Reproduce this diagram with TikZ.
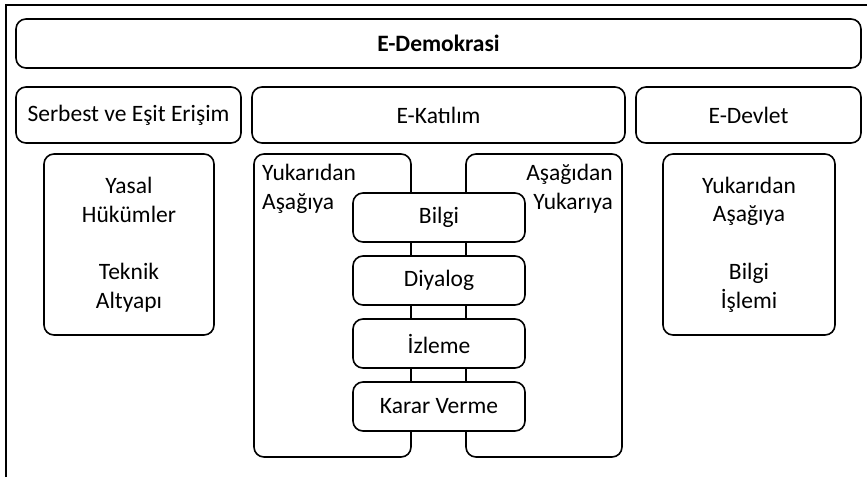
\documentclass[tikz,border=0pt]{standalone}
\usepackage{fontspec}
\setmainfont{Carlito}
\usepackage{tikz}
\usetikzlibrary{positioning}

\begin{document}
\begin{tikzpicture}[
x=1pt, y=-1pt,
font=\fontsize{23.5}{28.7}\selectfont,
roundbox/.style={rectangle, rounded corners=10pt, draw=black, line width=1.6pt, inner sep=0pt},
headbox/.style={roundbox, minimum width=225pt, minimum height=56pt},
textbox/.style={roundbox, minimum height=181pt, align=center},
sidebox/.style={roundbox, minimum width=157pt, minimum height=303pt},
stagebox/.style={roundbox, fill=white, minimum width=172pt, minimum height=49pt},
]
\useasboundingbox (0,0) rectangle (867,477);
%Frame
\draw[line width=1.6pt] (6,477) -- (6,5) -- (867,5);

%Nodes
\node[roundbox, minimum width=845pt, minimum height=49pt](edemokrasi) at (438.5,43.5){\textbf{E-Demokrasi}};
\node[headbox](erisim) at (128.5,115){Serbest ve Eşit Erişim};
\node[headbox, minimum width=373pt](ekatilim) at (438.5,115){E-Katılım};
\node[headbox](edevlet) at (748.5,115){E-Devlet};

\node[textbox, minimum width=170pt](yasal) at (129,244.5){Yasal\\Hükümler\\[28.7pt]Teknik\\Altyapı};
\node[textbox, minimum width=172pt](islem) at (749,244.5){Yukarıdan\\Aşağıya\\[28.7pt]Bilgi\\İşlemi};

\node[sidebox](yukaridan) at (332.5,305.5){};
\node[sidebox, minimum width=156pt](asagidan) at (544,305.5){};
\node[anchor=north west, align=left, inner sep=0pt](yukaridanmetin) at (262,164){Yukarıdan\\Aşağıya};
\node[anchor=north east, align=right, inner sep=0pt](asagidanmetin) at (613,164){Aşağıdan\\Yukarıya};

\node[stagebox](bilgi) at (439,217.5){Bilgi};
\node[stagebox](diyalog)[below=12.4pt of bilgi]{Diyalog};
\node[stagebox](izleme)[below=12.4pt of diyalog]{İzleme};
\node[stagebox](karar)[below=12.4pt of izleme]{Karar Verme};
\end{tikzpicture}
\end{document}
